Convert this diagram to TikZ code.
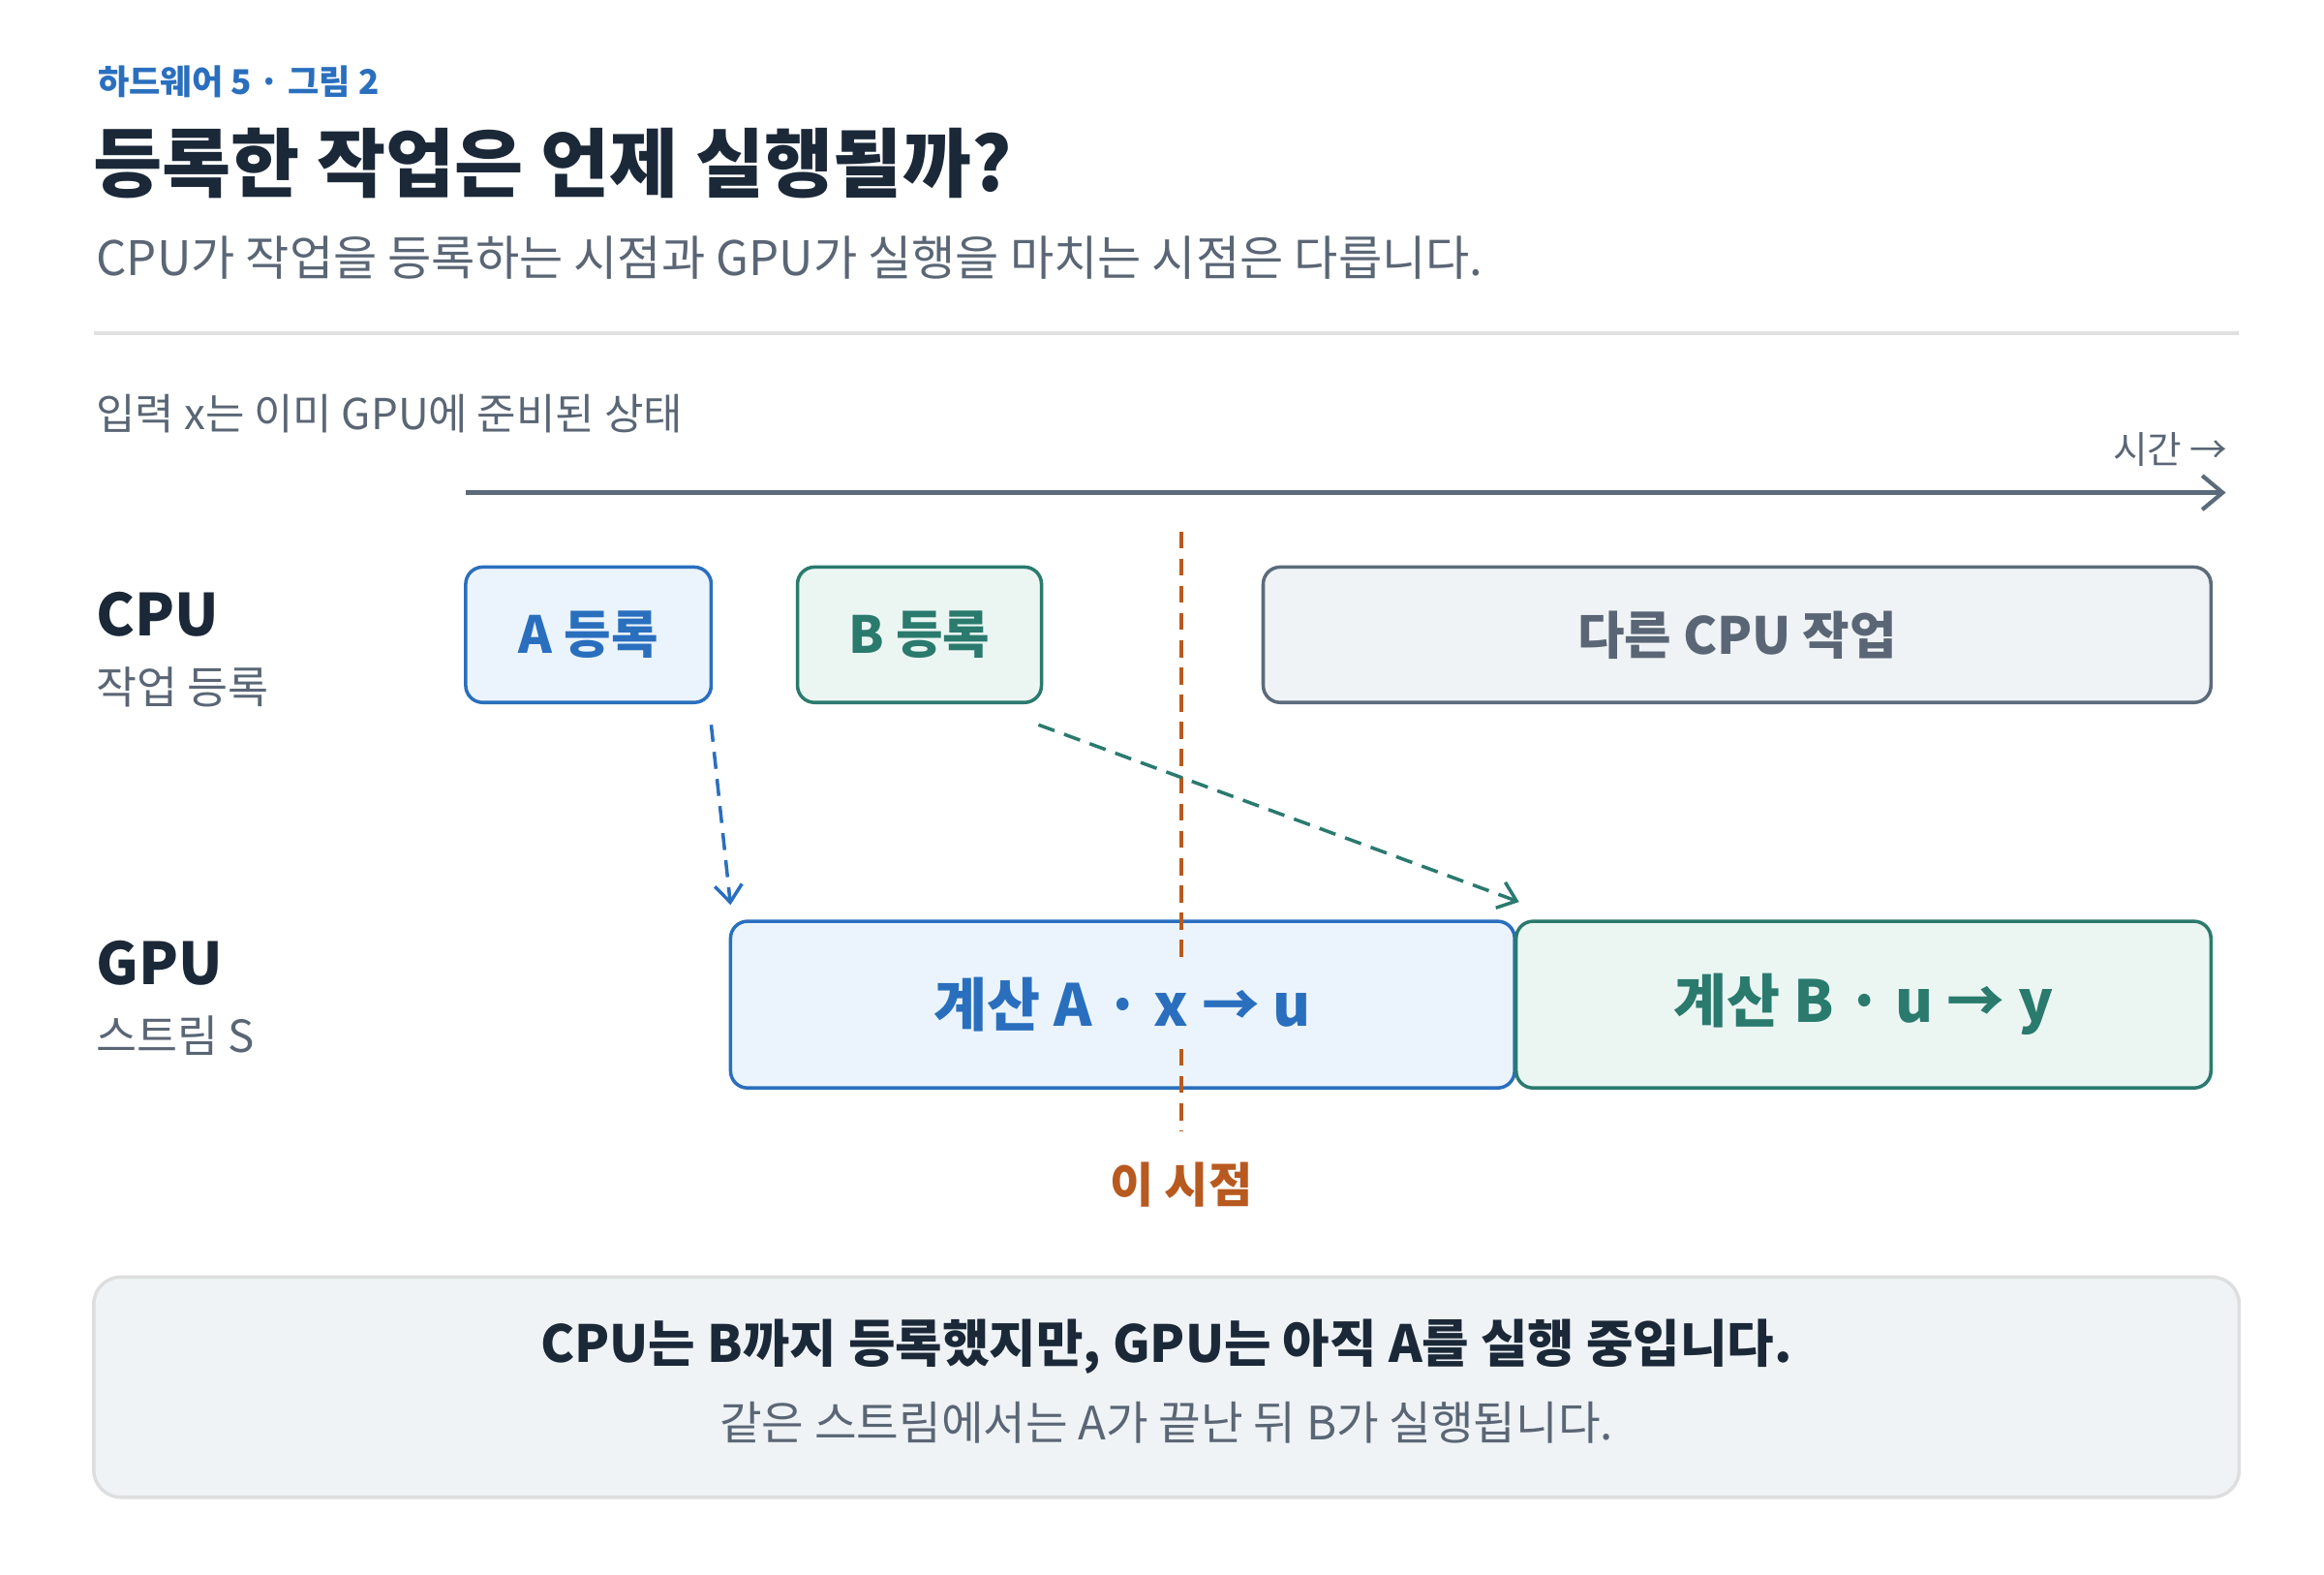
\documentclass[tikz,border=0pt]{standalone}
\usepackage{fontspec}
\setmainfont{Noto Sans CJK KR}
\usetikzlibrary{arrows.meta}
\definecolor{ink}{HTML}{1B2838}
\definecolor{gray1}{HTML}{5A6675}
\definecolor{blueS}{HTML}{2A6FBE}
\definecolor{blueF}{HTML}{EBF4FC}
\definecolor{tealS}{HTML}{2A7A6E}
\definecolor{tealF}{HTML}{EBF6F2}
\definecolor{greyF}{HTML}{EFF3F6}
\definecolor{greyS}{HTML}{5C6B7B}
\definecolor{orng}{HTML}{B85A20}
\begin{document}
\begin{tikzpicture}[x=0.015365cm,y=-0.015365cm,
  box/.style={rounded corners=5pt,line width=1pt},
  lbl/.style={inner sep=1pt},
  darr/.style={line width=1pt,dash pattern=on 5pt off 3pt,-{Straight Barb[length=5pt,width=8pt]}}]
\useasboundingbox (0,0) rectangle (1562,1058);
\node[lbl,anchor=west,text=blueS,font=\fontsize{10}{12}\selectfont\bfseries] (hdr) at (63,55) {하드웨어 5 · 그림 2};
\node[lbl,anchor=west,text=ink,font=\fontsize{22}{26}\selectfont\bfseries] (title) at (60,110) {등록한 작업은 언제 실행될까?};
\node[lbl,anchor=west,text=gray1,font=\fontsize{14}{17}\selectfont] (sub) at (62,173) {CPU가 작업을 등록하는 시점과 GPU가 실행을 마치는 시점은 다릅니다.};
\coordinate (r1) at (63,224); \coordinate (r2) at (1505,224);
\draw[line width=1pt,color=black!12] (r1) -- (r2);
\node[lbl,anchor=west,text=gray1,font=\fontsize{12.5}{15}\selectfont] (inp) at (62,278) {입력 x는 이미 GPU에 준비된 상태};
\node[lbl,anchor=east,text=gray1,font=\fontsize{11}{13}\selectfont] (time) at (1500,302) {시간 →};
\coordinate (t1) at (313,331); \coordinate (t2) at (1496,331);
\draw[line width=1.2pt,color=greyS,-{Straight Barb[length=6pt,width=10pt]}] (t1) -- (t2);

\node[lbl,anchor=west,text=ink,font=\fontsize{17}{20}\selectfont\bfseries] (cpu) at (62,413) {CPU};
\node[lbl,anchor=west,text=gray1,font=\fontsize{13}{16}\selectfont] (cpus) at (62,462) {작업 등록};
\node[lbl,anchor=west,text=ink,font=\fontsize{17}{20}\selectfont\bfseries] (gpu) at (62,647) {GPU};
\node[lbl,anchor=west,text=gray1,font=\fontsize{13}{16}\selectfont] (gpus) at (62,696) {스트림 S};

\draw[box,draw=blueS,fill=blueF] (313,381) rectangle (478,472);
\node[lbl,text=blueS,font=\fontsize{15}{18}\selectfont\bfseries] (A) at (395.5,426.5) {A 등록};
\draw[box,draw=tealS,fill=tealF] (536,381) rectangle (700,472);
\node[lbl,text=tealS,font=\fontsize{15}{18}\selectfont\bfseries] (B) at (618,426.5) {B 등록};
\draw[box,draw=greyS,fill=greyF] (849,381) rectangle (1486,472);
\node[lbl,text=gray1,font=\fontsize{15}{18}\selectfont\bfseries] (O) at (1167.5,426.5) {다른 CPU 작업};

\draw[box,draw=blueS,fill=blueF] (491,619) rectangle (1018,731);
\draw[box,draw=tealS,fill=tealF] (1019,619) rectangle (1486,731);

\coordinate (v1) at (794,357); \coordinate (v2) at (794,760);
\draw[orng,line width=1.3pt,dash pattern=on 5pt off 3pt] (v1) -- (v2);
\node[lbl,text=orng,font=\fontsize{14}{17}\selectfont\bfseries] (pt) at (794,796) {이 시점};

\node[text=blueS,fill=blueF,inner sep=4pt,font=\fontsize{17}{20}\selectfont\bfseries] (CA) at (754.5,675) {계산 A · x → u};
\node[text=tealS,font=\fontsize{17}{20}\selectfont\bfseries] (CB) at (1252.5,675) {계산 B · u → y};

\coordinate (a1) at (478,487); \coordinate (a2) at (491,608);
\draw[darr,blueS] (a1) -- (a2);
\coordinate (b1) at (698,487); \coordinate (b2) at (1021,606);
\draw[darr,tealS] (b1) -- (b2);

\draw[rounded corners=8pt,line width=1pt,draw=black!13,fill=greyF] (63,858) rectangle (1505,1006);
\node[lbl,text=ink,font=\fontsize{15}{18}\selectfont\bfseries] (n1) at (784,905) {CPU는 B까지 등록했지만, GPU는 아직 A를 실행 중입니다.};
\node[lbl,text=gray1,font=\fontsize{13.5}{16}\selectfont] (n2) at (784,956) {같은 스트림에서는 A가 끝난 뒤 B가 실행됩니다.};
\end{tikzpicture}
\end{document}
